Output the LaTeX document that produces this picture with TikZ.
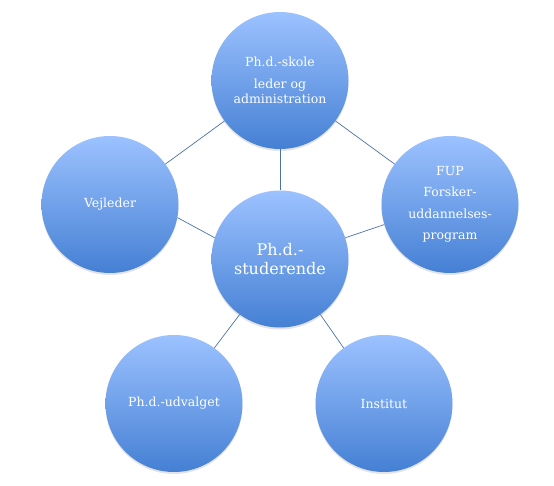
\documentclass[tikz,border=0pt]{standalone}
\usepackage{fontspec}
\setmainfont{DejaVu Serif}
\usetikzlibrary{shadows}
\definecolor{cTop}{HTML}{9CC2FF}
\definecolor{cBot}{HTML}{4580D4}
\definecolor{cLine}{HTML}{4D72A8}
\tikzset{
  bubble/.style={circle, minimum size=137pt, inner sep=0pt, align=center,
    top color=cTop, bottom color=cBot, draw=none, text=white,
    font=\fontsize{12.5}{15}\selectfont,
    drop shadow={opacity=0.22, shadow xshift=0pt, shadow yshift=-2pt}},
  link/.style={draw=cLine, line width=0.7pt}
}
\begin{document}
\begin{tikzpicture}[x=1pt,y=-1pt]
\useasboundingbox (0,0) rectangle (554,486);
\node[bubble] (top) at (280,80.5) {Ph.d.-skole\\[7pt]leder og\\administration};
\node[bubble] (left) at (110,204.5) {Vejleder};
\node[bubble, font=\fontsize{12.5}{21.5}\selectfont] (right) at (450,204.5) {FUP\\Forsker-\\uddannelses-\\program};
\node[bubble, font=\fontsize{16}{19.5}\selectfont] (center) at (280,259) {Ph.d.-\\studerende};
\node[bubble] (bl) at (174,403.5) {Ph.d.-udvalget};
\node[bubble] (br) at (384,403.5) {Institut};
\draw[link] (top) -- (left);
\draw[link] (top) -- (right);
\draw[link] (top) -- (center);
\draw[link] (center.162) -- (left.-11.5);
\draw[link] (center.18.7) -- (right.-163);
\draw[link] (center.-126) -- (bl.54);
\draw[link] (center.-54) -- (br.126);
\end{tikzpicture}
\end{document}
